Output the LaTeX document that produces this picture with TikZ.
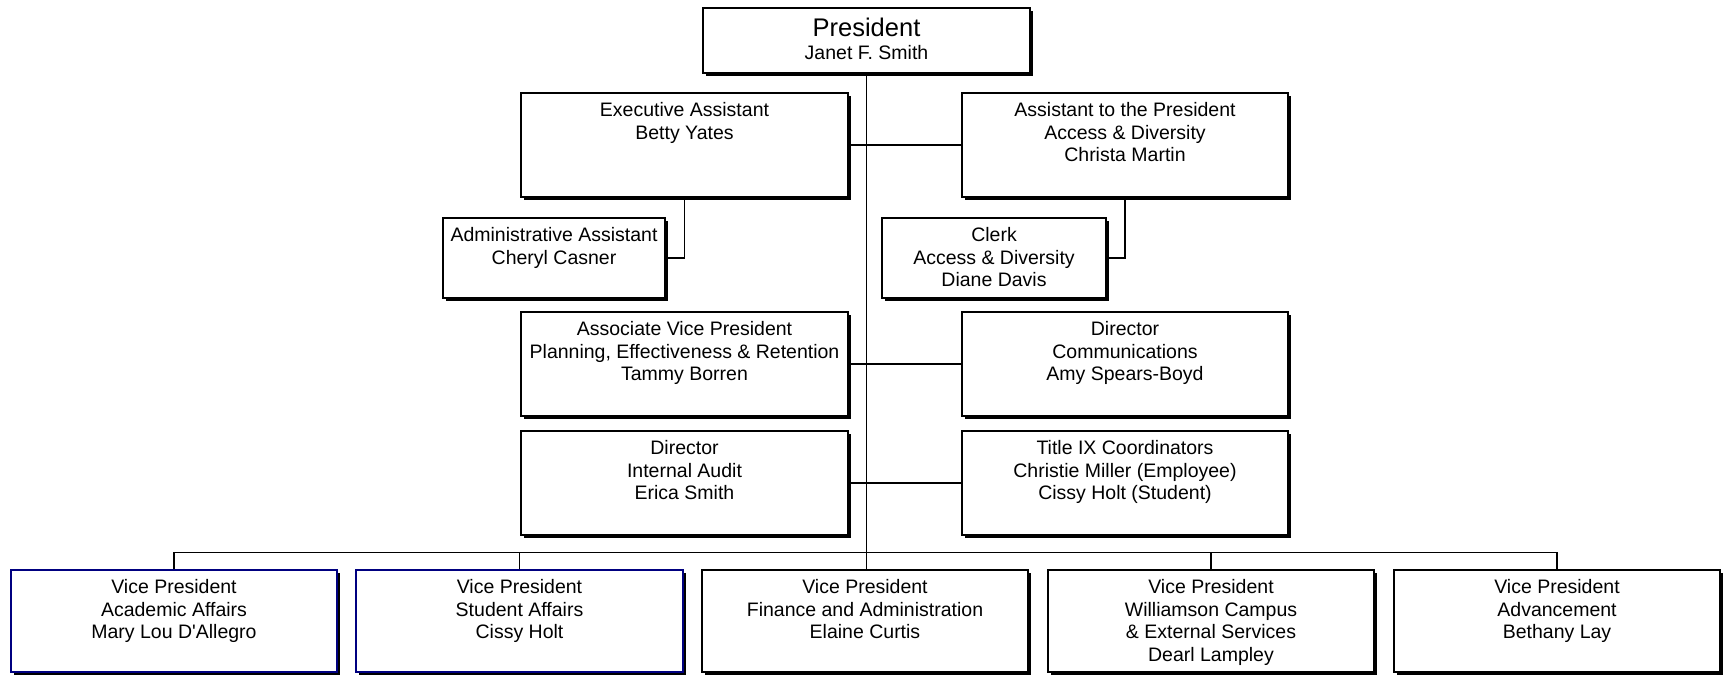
\documentclass[tikz,border=0pt]{standalone}
\usepackage{fontspec}
\setmainfont{Liberation Sans}[Ligatures=TeXOff]
\usetikzlibrary{shadows}
\definecolor{navy}{RGB}{0,0,128}
\tikzset{
  box/.style={draw=black, line width=1.2pt, fill=white, inner sep=0pt,
    drop shadow={shadow xshift=3pt, shadow yshift=-3pt, fill=black, opacity=1}},
  bluebox/.style={draw=navy},
  plainbox/.style={},
  txt/.style={anchor=north, inner sep=0pt, yshift=-10pt, align=center,
    font=\fontsize{19.5}{22.5}\selectfont},
  conn/.style={draw=black, line width=1.2pt}
}
\newcommand\orgbox[7]{%
  \node[box,#6,minimum width={#4-#2},minimum height={#5-#3}] (#1) at ({(#2+#4)/2},{(#3+#5)/2}) {};
  \node[txt] (#1-t) at (#1.north) {#7};
}
\begin{document}
\begin{tikzpicture}[x=1pt,y=-1pt]
\useasboundingbox (0,0) rectangle (1723,675);
\fill[white] (0,0) rectangle (1723,675);

\orgbox{pres}{703}{8}{1030}{73}{plainbox}{{\fontsize{25.5}{30}\selectfont President}\\[1pt]Janet F. Smith}
\orgbox{exec}{521}{93}{848}{197}{plainbox}{Executive Assistant\\Betty Yates}
\orgbox{atp}{962}{93}{1288}{197}{plainbox}{Assistant to the President\\Access \& Diversity\\Christa Martin}
\orgbox{admin}{443}{218}{665}{298}{plainbox}{Administrative Assistant\\Cheryl Casner}
\orgbox{clerk}{882}{218}{1106}{298}{plainbox}{Clerk\\Access \& Diversity\\Diane Davis}
\orgbox{avp}{521}{312}{848}{416}{plainbox}{Associate Vice President\\Planning, Effectiveness \& Retention\\Tammy Borren}
\orgbox{comm}{962}{312}{1288}{416}{plainbox}{Director\\Communications\\Amy Spears-Boyd}
\orgbox{audit}{521}{431}{848}{535}{plainbox}{Director\\Internal Audit\\Erica Smith}
\orgbox{title}{962}{431}{1288}{535}{plainbox}{Title IX Coordinators\\Christie Miller (Employee)\\Cissy Holt (Student)}
\orgbox{vp1}{11}{570}{337}{672}{bluebox}{Vice President\\Academic Affairs\\Mary Lou D'Allegro}
\orgbox{vp2}{356}{570}{683}{672}{bluebox}{Vice President\\Student Affairs\\Cissy Holt}
\orgbox{vp3}{702}{570}{1028}{672}{plainbox}{Vice President\\Finance and Administration\\Elaine Curtis}
\orgbox{vp4}{1048}{570}{1374}{672}{plainbox}{Vice President\\Williamson Campus\\\& External Services\\Dearl Lampley}
\orgbox{vp5}{1394}{570}{1720}{672}{plainbox}{Vice President\\Advancement\\Bethany Lay}

\draw[conn] (pres.south) -- (pres.south |- vp3.north);
\draw[conn] (exec.east) -- (atp.west);
\draw[conn] (avp.east) -- (comm.west);
\draw[conn] (audit.east) -- (title.west);
\draw[conn] (exec.south) |- (admin.east);
\draw[conn] (atp.south) |- (clerk.east);
\draw[conn] (vp1.north) -- ++(0,-17) -| (vp5.north);
\draw[conn] (vp2.north) -- ++(0,-17);
\draw[conn] (vp4.north) -- ++(0,-17);
\end{tikzpicture}
\end{document}
